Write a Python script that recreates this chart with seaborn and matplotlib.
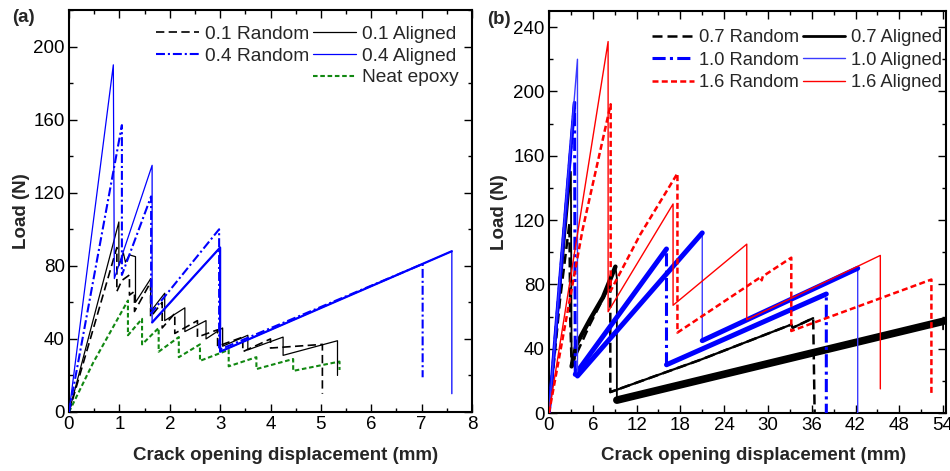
import numpy as np
import pandas as pd
import matplotlib
matplotlib.use("Agg")
import matplotlib.pyplot as plt
import seaborn as sns
from matplotlib.lines import Line2D
from matplotlib.ticker import MultipleLocator

# ---------------- Panel (a) data ----------------
a_r01_x = [0, 0.55, 0.95, 0.95, 1.05, 1.2, 1.2, 1.3, 1.3, 1.62, 1.62, 1.85, 1.85, 2.1, 2.1,
           2.55, 2.55, 2.95, 2.95, 3.45, 3.45, 4.0, 4.0, 5.03, 5.03]
a_r01_y = [0, 52, 90, 66, 72, 75, 64, 66, 55, 71, 52, 60, 46, 54, 43,
           50, 41, 45, 36, 41, 33, 40, 35, 37, 10]

a_a01_x = [0, 0.99, 0.99, 1.08, 1.12, 1.2, 1.32, 1.32, 1.6, 1.62, 1.62, 1.9, 1.9, 2.3, 2.3,
           2.72, 2.72, 3.05, 3.05, 3.55, 3.55, 4.25, 4.25, 5.33, 5.33]
a_a01_y = [0, 104, 80, 87, 82, 86, 85, 60, 72, 73, 55, 65, 50, 57, 44,
           50, 40, 46, 36, 42, 34, 41, 31, 39, 20]

a_r04_x = [0, 1.05, 1.05, 1.63, 1.63, 2.98, 2.98, 7.02, 7.02]
a_r04_y = [0, 157, 75, 118, 54, 100, 34, 81, 19]

a_a04_x = [0, 0.88, 0.90, 1.65, 1.65, 3.0, 3.0, 7.6, 7.6]
a_a04_y = [0, 190, 73, 135, 49, 90, 33, 88, 10]

a_neat_x = [0, 0.48, 1.17, 1.17, 1.45, 1.45, 1.78, 1.78, 2.18, 2.18, 2.6, 2.6,
            3.17, 3.17, 3.72, 3.72, 4.45, 4.45, 5.37, 5.37]
a_neat_y = [0, 27, 61, 42, 51, 37, 46, 33, 41, 30, 37, 28,
            34, 25, 30, 23.5, 29, 22.5, 27.6, 23]

a_labels = ["0.1 Random", "0.1 Aligned", "0.4 Random", "0.4 Aligned", "Neat epoxy"]
a_xticks = [0, 1, 2, 3, 4, 5, 6, 7, 8]
a_yticks = [0, 40, 80, 120, 160, 200]

# ---------------- Panel (b) data ----------------
b_r07_x = [0, 1.5, 2.8, 2.9, 3.1, 5.6, 8.4, 8.4, 20.7, 33.2, 33.4, 36.2, 36.4]
b_r07_y = [0, 70, 118, 60, 30, 55, 80, 13, 33, 55, 53, 59, 0]

b_a07_x = [0, 3.0, 3.1, 3.8, 5.6, 7.4, 9.1, 9.3, 9.3, 54.0, 54.0]
b_a07_y = [0, 150, 29, 43, 58, 72, 91, 84, 8, 57, 52]

b_r10_x = [0, 3.5, 3.6, 16.1, 16.1, 38.0, 38.0]
b_r10_y = [0, 193, 24, 102, 30, 74, 0]

b_a10_x = [0, 3.9, 3.9, 21.0, 21.0, 42.3, 42.3]
b_a10_y = [0, 220, 23, 112, 45, 90, 0]

b_r16_x = [0, 4.6, 8.45, 8.45, 12.5, 17.6, 17.6, 29.0, 29.15, 29.3, 33.2, 33.2, 52.4, 52.4]
b_r16_y = [0, 114, 192, 76, 111, 149, 50, 84.5, 82.5, 85, 96.6, 51, 83, 12]

b_a16_x = [0, 8.1, 8.1, 17.0, 17.0, 27.1, 27.1, 45.4, 45.4]
b_a16_y = [0, 231, 63, 130, 67, 105, 58, 98, 15]

b_labels = ["0.7 Random", "0.7 Aligned", "1.0 Random", "1.0 Aligned", "1.6 Random", "1.6 Aligned"]
b_xticks = [0, 6, 12, 18, 24, 30, 36, 42, 48, 54]
b_yticks = [0, 40, 80, 120, 160, 200, 240]

# ---------------- styling ----------------
sns.set_style("ticks")
plt.rcParams["font.family"] = ["Liberation Sans", "DejaVu Sans"]

BLUE = "#0000ff"
LBLUE = "#3b3bff"
RED = "#ff0000"
GREEN = "#118811"
BLACK = "#000000"

DASH_K = (0, (5, 2.6))
DASHDOT_B = (0, (4.3, 1.4, 1.0, 1.4))
DASH_G = (0, (2.2, 1.3))
DASH_R = (0, (2.4, 1.3))

FS_TICK = 13.5
FS_LAB = 13.5
FS_LEG_A = 13.8
FS_LEG_B = 13.2

fig = plt.figure(figsize=(9.5, 4.71), dpi=100)
axA = fig.add_axes([69 / 950, 1 - 412 / 471, (472 - 69) / 950, (412 - 10) / 471])
axB = fig.add_axes([549 / 950, 1 - 413 / 471, (946 - 549) / 950, (413 - 11) / 471])


def draw(ax, x, y, color, lw, ls="-", z=2):
    sns.lineplot(x=x, y=y, ax=ax, color=color, linewidth=lw, linestyle=ls,
                 sort=False, estimator=None, legend=False, zorder=z)


# Panel (a)
draw(axA, a_neat_x, a_neat_y, GREEN, 1.5, DASH_G, 2)
draw(axA, a_r01_x, a_r01_y, BLACK, 1.2, DASH_K, 3)
draw(axA, a_a01_x, a_a01_y, BLACK, 0.9, "-", 3)
draw(axA, a_r04_x, a_r04_y, BLUE, 1.5, DASHDOT_B, 4)
draw(axA, a_a04_x, a_a04_y, BLUE, 0.9, "-", 4)
# noisier portions drawn slightly heavier
draw(axA, a_a04_x[4:8], a_a04_y[4:8], BLUE, 1.6, "-", 4)

# Panel (b)
draw(axB, b_r07_x, b_r07_y, BLACK, 1.8, (0, (4, 2)), 2)
draw(axB, b_a07_x, b_a07_y, BLACK, 1.3, "-", 2)
draw(axB, b_a07_x[2:7], b_a07_y[2:7], BLACK, 3.2, "-", 2)
draw(axB, b_a07_x[8:10], b_a07_y[8:10], BLACK, 5.5, "-", 2)
draw(axB, b_r07_x[7:12], b_r07_y[7:12], BLACK, 1.6, "-", 2)
draw(axB, b_r10_x, b_r10_y, BLUE, 2.2, DASHDOT_B, 3)
draw(axB, b_r10_x[0:2], b_r10_y[0:2], BLUE, 2.6, "-", 3)
draw(axB, b_r10_x[2:4], b_r10_y[2:4], BLUE, 3.6, "-", 3)
draw(axB, b_r10_x[4:6], b_r10_y[4:6], BLUE, 3.6, "-", 3)
draw(axB, b_a10_x, b_a10_y, LBLUE, 1.0, "-", 3)
draw(axB, b_a10_x[2:4], b_a10_y[2:4], BLUE, 3.6, "-", 3)
draw(axB, b_a10_x[4:6], b_a10_y[4:6], BLUE, 3.6, "-", 3)
draw(axB, b_r16_x, b_r16_y, RED, 1.8, DASH_R, 4)
draw(axB, b_a16_x, b_a16_y, RED, 1.0, "-", 4)

for ax, xmax, ymax, xt, yt, xmin_step, ymin_step in [
        (axA, 8, 220, a_xticks, a_yticks, 0.5, 20),
        (axB, 54.4, 250, b_xticks, b_yticks, 3, 20)]:
    ax.set_xlim(0, xmax)
    ax.set_ylim(0, ymax)
    ax.set_xticks(xt)
    ax.set_yticks(yt)
    ax.set_xticklabels([str(v) for v in xt])
    ax.set_yticklabels([str(v) for v in yt])
    ax.xaxis.set_minor_locator(MultipleLocator(xmin_step))
    ax.yaxis.set_minor_locator(MultipleLocator(ymin_step))
    ax.tick_params(which="both", direction="in", top=True, right=True,
                   labelsize=FS_TICK, width=1.0, colors="black")
    ax.tick_params(which="major", length=6, pad=3)
    ax.tick_params(which="minor", length=3)
    for s in ax.spines.values():
        s.set_linewidth(1.5)
        s.set_color("black")
    ax.set_ylabel("Load (N)", fontsize=FS_LAB, fontweight="bold")
    ax.set_xlabel("Crack opening displacement (mm)", fontsize=FS_LAB, fontweight="bold")

axA.yaxis.set_label_coords(-47 / 403, 0.5)
axB.yaxis.set_label_coords(-49 / 397, 0.5)
axA.xaxis.set_label_coords(0.538, -0.107)
axB.xaxis.set_label_coords(0.516, -0.105)
axA.xaxis.label.set_verticalalignment("center")
axB.xaxis.label.set_verticalalignment("center")
axA.yaxis.label.set_verticalalignment("center")
axB.yaxis.label.set_verticalalignment("center")

fig.text(12 / 950, 1 - 17 / 471, "(a)", fontsize=13.5, fontweight="bold", va="center", ha="left")
fig.text(487 / 950, 1 - 19 / 471, "(b)", fontsize=13.5, fontweight="bold", va="center", ha="left")

blank = Line2D([], [], color="none")
hA = [Line2D([], [], color=BLACK, lw=1.2, ls=DASH_K),
      Line2D([], [], color=BLUE, lw=1.5, ls=DASHDOT_B),
      blank,
      Line2D([], [], color=BLACK, lw=0.9),
      Line2D([], [], color=BLUE, lw=0.9),
      Line2D([], [], color=GREEN, lw=1.5, ls=DASH_G)]
lA = [a_labels[0], a_labels[2], "", a_labels[1], a_labels[3], a_labels[4]]
axA.legend(hA, lA, ncol=2, loc="upper right", bbox_to_anchor=(0.967, 0.962),
           frameon=False, fontsize=FS_LEG_A, handlelength=2.25, handletextpad=0.3,
           columnspacing=0.2, labelspacing=0.23, borderpad=0, borderaxespad=0)

hB = [Line2D([], [], color=BLACK, lw=1.8, ls=(0, (4, 2))),
      Line2D([], [], color=BLUE, lw=2.2, ls=DASHDOT_B),
      Line2D([], [], color=RED, lw=1.8, ls=DASH_R),
      Line2D([], [], color=BLACK, lw=2.0),
      Line2D([], [], color=LBLUE, lw=1.0),
      Line2D([], [], color=RED, lw=1.0)]
lB = [b_labels[0], b_labels[2], b_labels[4], b_labels[1], b_labels[3], b_labels[5]]
axB.legend(hB, lB, ncol=2, loc="upper right", bbox_to_anchor=(0.99, 0.955),
           frameon=False, fontsize=FS_LEG_B, handlelength=2.3, handletextpad=0.3,
           columnspacing=0.2, labelspacing=0.3, borderpad=0, borderaxespad=0)

fig.savefig("out.png", dpi=100)
